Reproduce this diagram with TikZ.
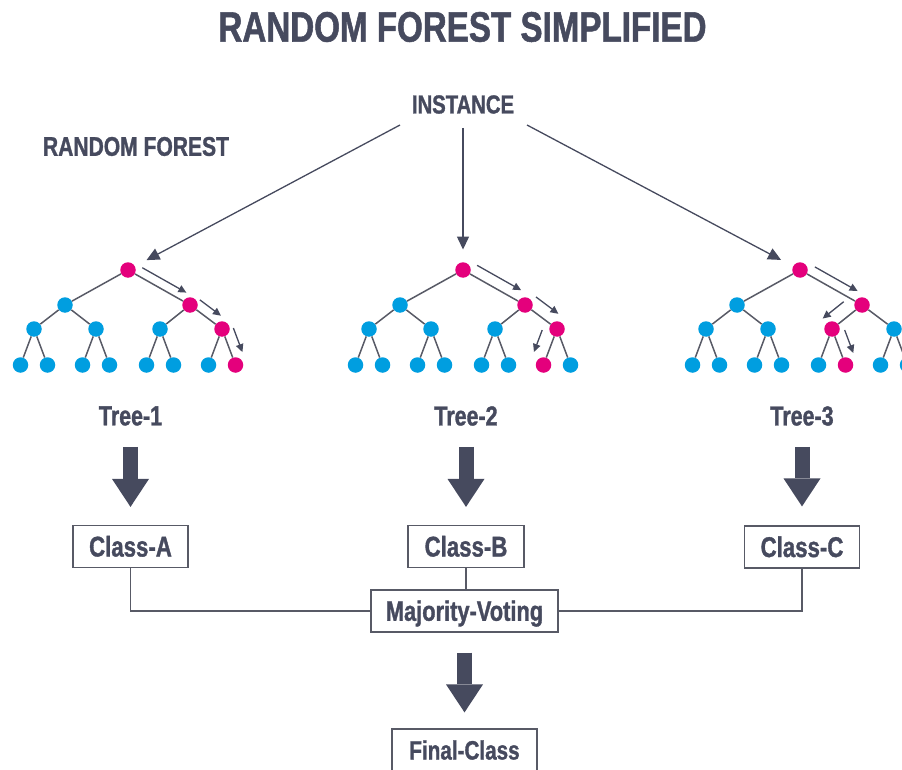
\documentclass[tikz,border=0pt]{standalone}
\usepackage{fontspec}
\setmainfont{Liberation Sans}[FakeStretch=0.78, BoldFeatures={FakeBold=1.2}]
\usetikzlibrary{arrows.meta,calc}
\definecolor{ink}{RGB}{70,74,94}
\definecolor{pinkc}{RGB}{228,0,124}
\definecolor{bluec}{RGB}{0,158,224}
\definecolor{edgec}{RGB}{88,90,102}
\newcommand\fsz[1]{\fontsize{#1pt}{#1pt}\selectfont}
\tikzset{
 lbl/.style={inner sep=0pt, text=ink, font=\bfseries\fsz{26}},
 boxnode/.style={draw=edgec, line width=1.2pt, inner sep=0pt, minimum height=42pt, text=ink, font=\bfseries\fsz{28.5}, text height=20pt, text depth=0pt},
 dot/.style={circle, inner sep=0pt, minimum size=15.5pt, fill=#1},
 treeedge/.style={draw=edgec, line width=1.5pt},
 patharr/.style={draw=ink, line width=1.3pt, -{Triangle[length=8pt,width=7.5pt]}},
 instarr/.style={draw=ink, line width=1.3pt, -{Triangle[length=13pt,width=12pt]}},
 bigarr/.style={draw=ink, line width=15pt, -{Triangle[length=28pt,width=37pt,line width=0pt]}},
 conn/.style={draw=edgec, line width=1.2pt},
}
% #1 prefix, #2 root x, #3 RL colour, #4 RR colour, #5 pink leaf index
\newcommand\drawtree[5]{%
 \node[dot=pinkc] (#1r) at (#2,270) {};
 \node[dot=bluec] (#1L) at (#2-63,305) {};
 \node[dot=pinkc] (#1R) at (#2+62,305) {};
 \node[dot=bluec] (#1LL) at (#2-94,329) {};
 \node[dot=bluec] (#1LR) at (#2-32,329) {};
 \node[dot=#3] (#1RL) at (#2+32,329) {};
 \node[dot=#4] (#1RR) at (#2+94,329) {};
 \draw[treeedge] (#1r) -- (#1L);
 \draw[treeedge] (#1r) -- (#1R);
 \draw[treeedge] (#1L) -- (#1LL);
 \draw[treeedge] (#1L) -- (#1LR);
 \draw[treeedge] (#1R) -- (#1RL);
 \draw[treeedge] (#1R) -- (#1RR);
 \foreach \i/\dx/\p in {1/-107.5/LL, 2/-80.5/LL, 3/-45.5/LR, 4/-18.5/LR, 5/18.5/RL, 6/45.5/RL, 7/80.5/RR, 8/107.5/RR}{%
   \ifnum\i=#5 \def\lc{pinkc}\else\def\lc{bluec}\fi
   \node[dot=\lc] (#1\i) at (#2+\dx,365) {};
   \draw[treeedge] (#1\p) -- (#1\i);
 }%
}
\newcommand\parr[6]{\draw[patharr] ($(#1)!#5!(#2)+(#1)!#4!#3:(#2)-(#1)$) -- ($(#1)!#6!(#2)+(#1)!#4!#3:(#2)-(#1)$);}
\begin{document}
\begin{tikzpicture}[x=1pt,y=-1pt]
\useasboundingbox (0,0) rectangle (902,770);
\node[lbl, font=\bfseries\fsz{42.5}] (title) at (462.5,27) {RANDOM FOREST SIMPLIFIED};
\node[lbl, font=\bfseries\fsz{27}] (rf) at (136,146.5) {RANDOM FOREST};
\node[lbl] (inst) at (463,104.5) {INSTANCE};

\drawtree{t1}{128}{bluec}{pinkc}{8}
\drawtree{t2}{463}{bluec}{pinkc}{7}
\drawtree{t3}{800}{pinkc}{bluec}{6}

\coordinate (s1) at (400,125);
\coordinate (s2) at (463,128);
\coordinate (s3) at (527,125);
\draw[instarr, shorten >=13pt] (s1) -- (t1r);
\draw[instarr, shorten >=12.5pt] (s2) -- (t2r);
\draw[instarr, shorten >=13.5pt] (s3) -- (t3r);

\parr{t1r}{t1R}{90}{9pt}{0.16}{0.87}
\parr{t1R}{t1RR}{90}{10pt}{0.12}{0.78}
\parr{t1RR}{t18}{90}{11pt}{0.08}{0.75}
\parr{t2r}{t2R}{90}{11pt}{0.14}{0.85}
\parr{t2R}{t2RR}{90}{13pt}{0.1}{0.8}
\parr{t2RR}{t27}{-90}{13.5pt}{0.16}{0.77}
\parr{t3r}{t3R}{90}{10pt}{0.16}{0.85}
\parr{t3R}{t3RL}{-90}{14pt}{0.32}{1.02}
\parr{t3RL}{t36}{90}{11.5pt}{0.14}{0.78}

\node[lbl, font=\bfseries\fsz{27.5}] (l1) at (130.5,416) {Tree-1};
\node[lbl, font=\bfseries\fsz{27.5}] (l2) at (466,416) {Tree-2};
\node[lbl, font=\bfseries\fsz{27.5}] (l3) at (802,416) {Tree-3};

\node[boxnode, minimum width=115pt] (ca) at (130.5,546.5) {Class-A};
\node[boxnode, minimum width=116pt] (cb) at (466,546.5) {Class-B};
\node[boxnode, minimum width=115pt] (cc) at (802,547) {Class-C};
\node[boxnode, minimum width=187pt, font=\bfseries\fsz{28}, text height=19.5pt] (mv) at (464.5,611) {Majority-Voting};
\node[boxnode, minimum width=145pt, font=\bfseries\fsz{26.5}, text height=19pt] (fc) at (464.5,750) {Final-Class};

\draw[bigarr, shorten <=21pt, shorten >=18pt] (l1.south) -- (ca.north);
\draw[bigarr, shorten <=21pt, shorten >=18pt] (l2.south) -- (cb.north);
\draw[bigarr, shorten <=21pt, shorten >=19pt] (l3.south) -- (cc.north);
\draw[bigarr, shorten <=20pt, shorten >=16pt] (mv.south) -- (fc.north);

\draw[conn] (ca.south) |- (mv.west);
\draw[conn] (cb.south) -- (cb.south |- mv.north);
\draw[conn] (cc.south) |- (mv.east);
\end{tikzpicture}
\end{document}
